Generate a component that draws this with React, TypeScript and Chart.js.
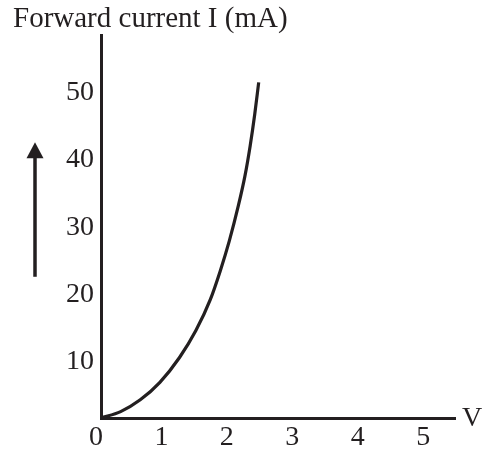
import React, { useEffect, useRef } from "react";
import { Chart, registerables } from "chart.js";

Chart.register(...registerables);

// Data (forward bias diode characteristic)
const voltage = [0, 0.3, 0.6, 0.9, 1.2, 1.45, 1.67, 1.82, 1.96, 2.1, 2.2, 2.28, 2.35, 2.41];
const current = [0, 0.95, 2.7, 5.3, 9.0, 13.0, 17.6, 21.8, 26.3, 31.6, 36.0, 40.5, 45.2, 49.9];
const xTicks = [0, 1, 2, 3, 4, 5];
const yTicks = [10, 20, 30, 40, 50];
const xMax = 5.41;
const yMax = 56.95;
const titleText = "Forward current I (mA)";
const xAxisLabel = "V";
const arrowRange = [21, 41]; // mA span of the decorative arrow

const INK = "#231f20";
const FONT = '"Liberation Serif", "Times New Roman", serif';

const extras = {
  id: "extras",
  afterDraw(chart: any) {
    const { ctx, chartArea, scales } = chart;
    const y = scales.y;
    ctx.save();
    ctx.fillStyle = INK;
    ctx.strokeStyle = INK;
    const ax = chartArea.left - 66;
    const yb = y.getPixelForValue(arrowRange[0]);
    const yt = y.getPixelForValue(arrowRange[1]);
    ctx.lineWidth = 3.5;
    ctx.beginPath();
    ctx.moveTo(ax, yb);
    ctx.lineTo(ax, yt + 12);
    ctx.stroke();
    ctx.beginPath();
    ctx.moveTo(ax, yt);
    ctx.lineTo(ax - 8.5, yt + 16);
    ctx.lineTo(ax + 8.5, yt + 16);
    ctx.closePath();
    ctx.fill();
    ctx.font = `28px ${FONT}`;
    ctx.textBaseline = "middle";
    ctx.textAlign = "left";
    ctx.fillText(xAxisLabel, chartArea.right + 7, chartArea.bottom + 1);
    ctx.restore();
  },
};

export default function App() {
  const ref = useRef<HTMLCanvasElement | null>(null);

  useEffect(() => {
    if (!ref.current) return;
    const points = voltage.map((v, i) => ({ x: v, y: current[i] }));
    const chart = new Chart(ref.current, {
      type: "line",
      data: {
        datasets: [
          {
            data: points,
            borderColor: INK,
            borderWidth: 3.2,
            pointRadius: 0,
            cubicInterpolationMode: "monotone",
            fill: false,
            clip: false as any,
          },
        ],
      },
      options: {
        animation: false,
        responsive: false,
        devicePixelRatio: 1,
        layout: { padding: { left: 13, right: 28, top: 0, bottom: 0 } },
        plugins: {
          legend: { display: false },
          tooltip: { enabled: false },
          title: {
            display: true,
            text: titleText,
            align: "start",
            color: INK,
            font: { family: FONT, size: 29, weight: "normal", lineHeight: 1 },
            padding: { top: 5, bottom: 1 },
          },
        },
        scales: {
          x: {
            type: "linear",
            min: 0,
            max: xMax,
            afterBuildTicks: (scale: any) => {
              scale.ticks = xTicks.map((v) => ({ value: v }));
            },
            afterFit: (scale: any) => {
              scale.height = 31;
            },
            grid: { display: false, drawTicks: false },
            border: { display: true, color: INK, width: 3 },
            ticks: {
              color: INK,
              font: { family: FONT, size: 28 },
              padding: 3,
              labelOffset: -5,
              maxRotation: 0,
              autoSkip: false,
              callback: (v: any) => String(v),
            },
          },
          y: {
            type: "linear",
            min: 0,
            max: yMax,
            afterBuildTicks: (scale: any) => {
              scale.ticks = yTicks.map((v) => ({ value: v }));
            },
            afterFit: (scale: any) => {
              scale.width = 88;
            },
            grid: { display: false, drawTicks: false },
            border: { display: true, color: INK, width: 3 },
            ticks: {
              color: INK,
              font: { family: FONT, size: 28 },
              padding: 7,
              labelOffset: 11,
              autoSkip: false,
              callback: (v: any) => String(v),
            },
          },
        },
      },
      plugins: [extras],
    });
    return () => chart.destroy();
  }, []);

  return (
    <div style={{ position: "absolute", left: 0, top: 0, width: 483, height: 449, background: "#fff" }}>
      <canvas ref={ref} width={483} height={449} />
    </div>
  );
}
